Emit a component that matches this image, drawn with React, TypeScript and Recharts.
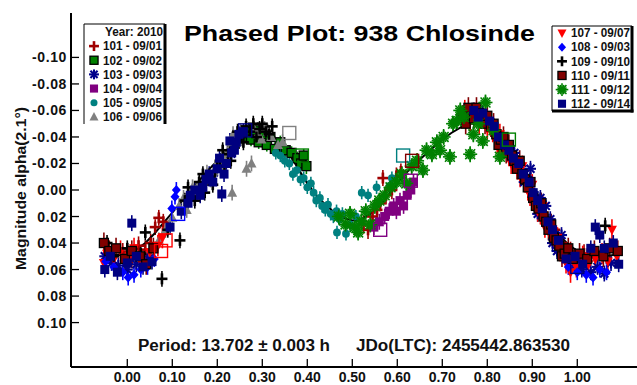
import React from 'react';
import { ScatterChart, Scatter, XAxis, YAxis, ErrorBar } from 'recharts';

type Pt = [number, number, number];

// phase, magnitude, error
const s101: Pt[] = [[0.070,0.021,0.006],[0.080,0.024,0.006],[0.062,0.028,0.006],[0.025,0.042,0.007],[-0.010,0.047,0.007],[0.010,0.052,0.007],[0.040,0.045,0.007],[0.052,0.040,0.007],[0.525,0.026,0.007],[0.535,0.030,0.007],[0.545,0.020,0.007],[0.555,0.015,0.007],[0.562,0.010,0.006],[0.568,-0.009,0.006],[0.575,0.004,0.007],[0.588,0.000,0.007],[0.598,-0.010,0.007],[0.608,-0.014,0.006],[0.930,0.022,0.007],[0.950,0.030,0.007],[0.965,0.040,0.007],[0.985,0.046,0.007],[1.000,0.052,0.007],[1.015,0.048,0.007]];
const s102: Pt[] = [[0.255,-0.040,0.005],[0.265,-0.044,0.005],[0.275,-0.038,0.005],[0.285,-0.045,0.005],[0.292,-0.036,0.005],[0.300,-0.042,0.005],[0.310,-0.034,0.005],[0.318,-0.040,0.005],[0.328,-0.031,0.005],[0.340,-0.036,0.005],[0.352,-0.030,0.005],[0.365,-0.028,0.005],[0.378,-0.024,0.005],[0.386,-0.020,0.005],[0.392,-0.026,0.005],[0.398,-0.018,0.006]];
const s103: Pt[] = [[0.840,-0.030,0.006],[0.852,-0.025,0.006],[0.860,-0.028,0.006],[0.866,-0.022,0.006],[0.875,-0.018,0.006],[0.882,-0.006,0.006],[0.888,-0.010,0.006],[0.896,-0.016,0.006],[0.905,0.004,0.006],[0.912,0.018,0.006],[0.918,0.006,0.006],[0.930,0.012,0.006],[0.940,0.022,0.006],[0.945,0.040,0.006],[0.955,0.046,0.006],[0.965,0.034,0.006],[0.980,0.050,0.006],[0.995,0.057,0.006],[1.010,0.060,0.006],[1.030,0.062,0.006],[1.045,0.058,0.006],[1.060,0.063,0.006],[1.075,0.055,0.006],[-0.050,0.050,0.006],[-0.035,0.055,0.006],[-0.020,0.057,0.006],[0.000,0.060,0.006],[0.020,0.056,0.006],[0.045,0.052,0.006]];
const s104: Pt[] = [[0.548,0.028,0.006],[0.560,0.024,0.006],[0.572,0.020,0.006],[0.582,0.016,0.006],[0.592,0.012,0.006],[0.598,0.016,0.006],[0.606,0.008,0.006],[0.614,0.012,0.006],[0.622,0.004,0.006],[0.630,0.000,0.006],[0.636,-0.006,0.006]];
const s105: Pt[] = [[0.330,-0.028,0.005],[0.340,-0.026,0.005],[0.350,-0.022,0.005],[0.360,-0.020,0.005],[0.368,-0.012,0.005],[0.377,-0.015,0.005],[0.385,-0.008,0.005],[0.392,-0.009,0.005],[0.400,-0.002,0.005],[0.408,-0.005,0.005],[0.414,0.002,0.005],[0.420,0.008,0.005],[0.428,0.006,0.005],[0.433,0.012,0.005],[0.440,0.015,0.005],[0.446,0.011,0.005],[0.452,0.018,0.005],[0.458,0.020,0.005],[0.465,0.016,0.005],[0.472,0.022,0.005],[0.478,0.018,0.005],[0.466,0.032,0.005],[0.486,0.033,0.005],[0.495,0.026,0.005],[0.508,0.020,0.005],[0.521,0.002,0.005],[0.535,0.004,0.005],[0.554,-0.002,0.005],[0.583,-0.003,0.005],[0.588,-0.009,0.005]];
const s106: Pt[] = [[0.100,0.021,0.006],[0.115,0.012,0.006],[0.125,0.006,0.006],[0.132,0.015,0.006],[0.140,0.003,0.006],[0.145,-0.002,0.006],[0.150,0.006,0.006],[0.158,-0.004,0.006],[0.165,0.000,0.006],[0.170,-0.006,0.006],[0.177,-0.013,0.006],[0.185,-0.008,0.006],[0.192,-0.014,0.006],[0.200,-0.021,0.006],[0.210,-0.018,0.006],[0.215,-0.024,0.006],[0.222,-0.028,0.006],[0.228,-0.032,0.006],[0.235,-0.042,0.006],[0.245,-0.036,0.006],[0.252,-0.044,0.006],[0.233,0.002,0.006],[0.265,-0.016,0.006],[0.276,-0.020,0.006],[0.282,-0.046,0.006],[0.290,-0.042,0.006],[0.298,-0.038,0.006],[0.305,-0.046,0.006],[0.312,-0.044,0.006],[0.320,-0.040,0.006],[0.335,-0.034,0.006],[0.345,-0.036,0.006],[0.070,0.038,0.006],[0.085,0.030,0.006]];
const s107: Pt[] = [[0.750,-0.060,0.008],[0.762,-0.052,0.008],[0.772,-0.058,0.008],[0.782,-0.050,0.008],[0.792,-0.054,0.008],[0.800,-0.046,0.008],[0.805,-0.050,0.008],[0.812,-0.044,0.008],[0.818,-0.040,0.008],[0.822,-0.036,0.008],[0.828,-0.042,0.008],[0.832,-0.030,0.008],[0.842,-0.032,0.008],[0.848,-0.026,0.008],[0.853,-0.020,0.008],[0.862,-0.022,0.008],[0.868,-0.016,0.008],[0.873,-0.010,0.008],[0.878,-0.018,0.008],[0.884,-0.006,0.008],[0.890,0.000,0.008],[0.895,0.004,0.008],[0.900,-0.004,0.008],[0.907,0.010,0.008],[0.912,0.016,0.008],[0.918,0.018,0.008],[0.923,0.012,0.008],[0.928,0.028,0.008],[0.934,0.024,0.008],[0.940,0.034,0.008],[0.945,0.030,0.008],[0.950,0.040,0.008],[0.956,0.036,0.008],[0.962,0.046,0.008],[0.968,0.044,0.008],[0.975,0.055,0.008],[0.985,0.062,0.008],[0.998,0.058,0.008],[1.012,0.050,0.008],[1.025,0.056,0.008],[1.040,0.052,0.008],[1.055,0.048,0.008],[1.068,0.054,0.008],[1.077,0.030,0.008],[1.088,0.050,0.008],[-0.052,0.055,0.008],[-0.045,0.048,0.008],[-0.030,0.052,0.008],[-0.015,0.046,0.008],[0.005,0.050,0.008],[0.015,0.044,0.008],[0.030,0.054,0.008],[0.050,0.047,0.008],[0.068,0.042,0.008],[0.078,0.036,0.008]];
const s108: Pt[] = [[0.099,0.014,0.006],[0.106,0.005,0.006],[0.109,0.000,0.006],[-0.048,0.054,0.006],[-0.030,0.058,0.006],[-0.010,0.062,0.006],[0.002,0.066,0.006],[0.015,0.064,0.006],[0.030,0.060,0.006],[0.045,0.058,0.006],[0.060,0.052,0.006],[0.980,0.058,0.006],[1.000,0.062,0.006],[1.020,0.064,0.006],[1.035,0.066,0.006],[1.050,0.060,0.006],[1.065,0.062,0.006]];
const s109: Pt[] = [[0.077,0.067,0.006],[0.117,0.038,0.006],[0.040,0.032,0.006],[0.128,0.008,0.006],[0.135,-0.002,0.006],[0.145,0.002,0.006],[0.150,0.008,0.006],[0.160,-0.006,0.006],[0.168,-0.012,0.006],[0.172,0.002,0.006],[0.183,-0.010,0.006],[0.190,-0.004,0.006],[0.195,-0.014,0.006],[0.200,-0.018,0.006],[0.206,-0.022,0.006],[0.212,-0.030,0.006],[0.216,-0.018,0.006],[0.224,-0.027,0.006],[0.230,-0.022,0.006],[0.238,-0.032,0.006],[0.245,-0.044,0.006],[0.252,-0.040,0.006],[0.258,-0.036,0.006],[0.264,-0.048,0.006],[0.272,-0.044,0.006],[0.280,-0.050,0.006],[0.287,-0.040,0.006],[0.294,-0.046,0.006],[0.300,-0.050,0.006],[0.308,-0.044,0.006],[0.315,-0.042,0.006],[0.322,-0.048,0.006],[1.062,0.027,0.006],[-0.045,0.040,0.006],[-0.030,0.050,0.006],[0.000,0.044,0.006],[0.030,0.048,0.006],[0.090,0.030,0.006]];
const s110: Pt[] = [[0.745,-0.056,0.008],[0.752,-0.050,0.008],[0.758,-0.062,0.008],[0.770,-0.054,0.008],[0.776,-0.062,0.008],[0.782,-0.058,0.008],[0.795,-0.050,0.008],[0.800,-0.056,0.008],[0.808,-0.048,0.008],[0.814,-0.050,0.008],[0.820,-0.042,0.008],[0.825,-0.034,0.008],[0.830,-0.038,0.008],[0.836,-0.040,0.008],[0.842,-0.028,0.008],[0.848,-0.034,0.008],[0.855,-0.026,0.008],[0.860,-0.022,0.008],[0.866,-0.016,0.008],[0.872,-0.022,0.008],[0.878,-0.012,0.008],[0.884,-0.008,0.008],[0.890,-0.002,0.008],[0.896,-0.006,0.008],[0.902,0.006,0.008],[0.908,0.012,0.008],[0.914,0.014,0.008],[0.920,0.010,0.008],[0.925,0.020,0.008],[0.931,0.024,0.008],[0.936,0.030,0.008],[0.942,0.026,0.008],[0.948,0.036,0.008],[0.954,0.038,0.008],[0.960,0.042,0.008],[0.966,0.050,0.008],[0.972,0.048,0.008],[0.980,0.044,0.008],[0.990,0.052,0.008],[1.005,0.048,0.008],[1.022,0.052,0.008],[1.038,0.046,0.008],[1.058,0.050,0.008],[1.072,0.044,0.008],[1.090,0.046,0.008],[-0.052,0.040,0.008],[-0.040,0.046,0.008],[-0.025,0.044,0.008],[-0.005,0.052,0.008],[0.010,0.046,0.008],[0.028,0.050,0.008],[0.042,0.056,0.008],[0.058,0.044,0.008]];
const s111: Pt[] = [[0.470,0.020,0.006],[0.485,0.026,0.006],[0.495,0.018,0.006],[0.505,0.028,0.006],[0.513,0.032,0.006],[0.520,0.024,0.006],[0.530,0.016,0.006],[0.540,0.026,0.006],[0.550,0.012,0.006],[0.560,0.008,0.006],[0.572,0.004,0.006],[0.585,-0.002,0.006],[0.598,-0.006,0.006],[0.610,-0.012,0.006],[0.620,-0.005,0.006],[0.632,-0.018,0.006],[0.644,-0.022,0.006],[0.657,-0.015,0.006],[0.665,-0.030,0.006],[0.677,-0.027,0.006],[0.688,-0.036,0.006],[0.695,-0.030,0.006],[0.703,-0.040,0.006],[0.717,-0.025,0.006],[0.724,-0.050,0.006],[0.732,-0.052,0.006],[0.740,-0.060,0.006],[0.748,-0.055,0.006],[0.762,-0.027,0.006],[0.769,-0.042,0.006],[0.780,-0.050,0.006],[0.790,-0.037,0.006],[0.796,-0.066,0.006],[0.814,-0.045,0.006],[0.828,-0.025,0.006]];
const s112: Pt[] = [[0.010,0.025,0.006],[0.095,0.028,0.006],[0.120,0.016,0.006],[0.135,0.010,0.006],[0.140,0.004,0.006],[0.150,0.000,0.006],[0.162,0.004,0.006],[0.168,-0.002,0.006],[0.175,-0.008,0.006],[0.182,-0.012,0.006],[0.190,-0.006,0.006],[0.200,-0.016,0.006],[0.205,-0.024,0.006],[0.210,0.003,0.006],[0.215,-0.012,0.006],[0.220,-0.020,0.006],[0.228,-0.037,0.006],[0.232,-0.028,0.006],[0.238,-0.030,0.006],[0.242,-0.036,0.006],[0.248,-0.042,0.006],[0.258,-0.044,0.006],[0.770,-0.060,0.006],[0.780,-0.055,0.006],[0.790,-0.058,0.006],[0.805,-0.052,0.006],[0.815,-0.048,0.006],[0.825,-0.040,0.006],[0.838,-0.034,0.006],[0.848,-0.030,0.006],[0.858,-0.024,0.006],[0.870,-0.020,0.006],[0.880,-0.012,0.006],[0.893,-0.006,0.006],[0.902,0.002,0.006],[0.912,0.008,0.006],[0.922,0.014,0.006],[0.935,0.024,0.006],[0.945,0.030,0.006],[0.958,0.038,0.006],[0.975,0.052,0.006],[0.995,0.050,0.006],[1.012,0.056,0.006],[1.030,0.044,0.006],[1.040,0.028,0.006],[1.050,0.034,0.006],[1.060,0.044,0.006],[1.080,0.040,0.006],[1.092,0.056,0.006],[-0.050,0.060,0.006],[-0.038,0.050,0.006],[-0.022,0.062,0.006],[0.000,0.055,0.006],[0.020,0.050,0.006],[0.035,0.058,0.006],[0.055,0.054,0.006]];

const sessionNames = ['101 - 09/01','102 - 09/02','103 - 09/03','104 - 09/04','105 - 09/05','106 - 09/06','107 - 09/07','108 - 09/03','109 - 09/10','110 - 09/11','111 - 09/12','112 - 09/14'];
const sessionColors = ['#A00000','#008000','#00008B','#800080','#008080','#808080','#FF0000','#0000FF','#000000','#800000','#008000','#000080'];
const sessionMarkers = ['plus','sqB','aster','sq','circle','triUp','triDown','diamond','plus','sqB','star','sq'];
const sessionData = [s101,s102,s103,s104,s105,s106,s107,s108,s109,s110,s111,s112];

// hollow highlight boxes: phase, mag, session index
const boxes: Pt[] = [[0.113,0.018,7],[0.262,-0.045,11],[0.360,-0.043,5],[0.388,-0.026,1],[0.848,-0.038,1],[0.613,-0.026,4],[0.633,-0.022,9],[0.630,-0.007,3],[0.562,0.030,3],[0.085,0.038,6],[0.075,0.046,6],[1.000,0.058,11]];

const fitPhase = [-0.05,0.00,0.02,0.04,0.06,0.08,0.10,0.12,0.14,0.16,0.18,0.20,0.22,0.24,0.26,0.28,0.30,0.32,0.34,0.36,0.38,0.40,0.42,0.44,0.46,0.48,0.50,0.52,0.54,0.56,0.58,0.60,0.62,0.64,0.66,0.68,0.70,0.72,0.74,0.76,0.78,0.80,0.82,0.84,0.86,0.88,0.90,0.92,0.94,0.96,0.98,1.00,1.02,1.04,1.06,1.08,1.10];
const fitMag = [0.049,0.049,0.045,0.040,0.033,0.025,0.017,0.009,0.001,-0.007,-0.015,-0.022,-0.029,-0.035,-0.040,-0.043,-0.044,-0.042,-0.036,-0.027,-0.016,-0.005,0.004,0.011,0.017,0.021,0.023,0.022,0.018,0.012,0.004,-0.005,-0.013,-0.020,-0.026,-0.032,-0.038,-0.043,-0.047,-0.050,-0.050,-0.047,-0.040,-0.030,-0.019,-0.007,0.004,0.015,0.025,0.034,0.041,0.046,0.049,0.050,0.050,0.049,0.049];

const xTicks = [0,0.1,0.2,0.3,0.4,0.5,0.6,0.7,0.8,0.9,1.0];
const yTicks = [-0.1,-0.08,-0.06,-0.04,-0.02,0,0.02,0.04,0.06,0.08,0.1];

const FONT = '"Liberation Sans", Arial, sans-serif';
const PLOT_TOP = 13;
const PLOT_BOTTOM = 367;
const PLOT_LEFT = 71;

function Marker({ kind, color, cx, cy, k = 1 }: { kind: string; color: string; cx: number; cy: number; k?: number }) {
  if (cx == null || cy == null || isNaN(cx) || isNaN(cy)) return <g />;
  const h = 4.5 * k;
  switch (kind) {
    case 'plus':
      return (
        <g stroke={color} strokeWidth={2.6}>
          <line x1={cx - 5.5 * k} x2={cx + 5.5 * k} y1={cy} y2={cy} />
          <line x1={cx} x2={cx} y1={cy - 5.5 * k} y2={cy + 5.5 * k} />
        </g>
      );
    case 'sqB':
      return <rect x={cx - h} y={cy - h} width={2 * h} height={2 * h} fill={color} stroke="#000" strokeWidth={1.3} />;
    case 'sq':
      return <rect x={cx - h} y={cy - h} width={2 * h} height={2 * h} fill={color} />;
    case 'circle':
      return <circle cx={cx} cy={cy} r={3.9 * k} fill={color} />;
    case 'triUp':
      return <polygon points={`${cx},${cy - 5.5 * k} ${cx + 5 * k},${cy + 4 * k} ${cx - 5 * k},${cy + 4 * k}`} fill={color} />;
    case 'triDown':
      return <polygon points={`${cx - 5 * k},${cy - 4 * k} ${cx + 5 * k},${cy - 4 * k} ${cx},${cy + 5.5 * k}`} fill={color} />;
    case 'diamond':
      return <polygon points={`${cx},${cy - 5 * k} ${cx + 4.5 * k},${cy} ${cx},${cy + 5 * k} ${cx - 4.5 * k},${cy}`} fill={color} />;
    case 'aster': {
      const r = 5.5 * k;
      const d = r * 0.72;
      return (
        <g stroke={color} strokeWidth={2.1}>
          <line x1={cx - r} x2={cx + r} y1={cy} y2={cy} />
          <line x1={cx} x2={cx} y1={cy - r} y2={cy + r} />
          <line x1={cx - d} x2={cx + d} y1={cy - d} y2={cy + d} />
          <line x1={cx - d} x2={cx + d} y1={cy + d} y2={cy - d} />
        </g>
      );
    }
    case 'star': {
      const lines = [0, 1, 2, 3, 4, 5, 6, 7].map((i) => {
        const a = (i * Math.PI) / 8;
        const r = (i % 2 === 0 ? 7 : 5.5) * k;
        const dx = r * Math.cos(a);
        const dy = r * Math.sin(a);
        return <line key={i} x1={cx - dx} x2={cx + dx} y1={cy - dy} y2={cy + dy} />;
      });
      return (
        <g stroke={color} strokeWidth={1.6}>
          {lines}
        </g>
      );
    }
    default:
      return <g />;
  }
}

const BottomTick = (p: any) => (
  <g>
    <line x1={p.x} x2={p.x} y1={PLOT_BOTTOM} y2={PLOT_BOTTOM - 8} stroke="#000" strokeWidth={1.3} />
    <text x={p.x} y={382} textAnchor="middle" fontFamily={FONT} fontWeight="bold" fontSize={14} fill="#111">
      {Number(p.payload.value).toFixed(2)}
    </text>
  </g>
);

const TopTick = (p: any) => (
  <line x1={p.x} x2={p.x} y1={PLOT_TOP} y2={PLOT_TOP + 7} stroke="#000" strokeWidth={1.3} />
);

const LeftTick = (p: any) => (
  <g>
    <line x1={PLOT_LEFT} x2={PLOT_LEFT + 8} y1={p.y} y2={p.y} stroke="#000" strokeWidth={1.3} />
    <text x={67} y={p.y + 5} textAnchor="end" fontFamily={FONT} fontWeight="bold" fontSize={14} fill="#111" letterSpacing={0.6}>
      {Number(p.payload.value).toFixed(2)}
    </text>
  </g>
);

function LegendBlock({ x, y, idx, header, w, h, bottom }: { x: number; y: number; idx: number[]; header?: string; w: number; h: number; bottom: boolean }) {
  const rowStart = header ? y + 8 + 14.1 : y + 7;
  return (
    <g fontFamily={FONT} fontWeight="bold" fontSize={12}>
      <rect x={x} y={y} width={w} height={h} fill="#fff" stroke="none" />
      <line x1={x} x2={x + w} y1={y} y2={y} stroke="#000" strokeWidth={1} />
      <line x1={x} x2={x} y1={y} y2={y + h} stroke="#000" strokeWidth={1} />
      <line x1={x + w} x2={x + w} y1={y} y2={y + h + (bottom ? 1.5 : 0)} stroke="#000" strokeWidth={3} />
      {bottom && <line x1={x} x2={x + w + 1.5} y1={y + h} y2={y + h} stroke="#000" strokeWidth={3} />}
      {header && (
        <text x={x + 21} y={y + 12} fill="#111" textLength={58} lengthAdjust="spacingAndGlyphs">{header}</text>
      )}
      {idx.map((i, k) => {
        const cy = rowStart + k * 14.15;
        return (
          <g key={i}>
            <Marker kind={sessionMarkers[i]} color={sessionColors[i]} cx={x + 10} cy={cy} k={0.9} />
            <text x={x + 19} y={cy + 4.3} fill="#111" textLength={59} lengthAdjust="spacingAndGlyphs">{sessionNames[i]}</text>
          </g>
        );
      })}
    </g>
  );
}

export default function App() {
  const fitData = fitPhase.map((p, i) => ({ x: p, y: fitMag[i] }));
  const boxData = boxes.map((b) => ({ x: b[0], y: b[1], s: b[2] }));
  return (
    <div style={{ position: 'relative', width: 637, height: 385, background: '#fff' }}>
      <style>{'body{margin:0;}'}</style>
      <ScatterChart width={637} height={385} margin={{ top: PLOT_TOP, right: 0, bottom: 0, left: 0 }}>
        <XAxis
          xAxisId="b"
          type="number"
          dataKey="x"
          domain={[-0.1251, 1.1327]}
          allowDataOverflow
          ticks={xTicks}
          interval={0}
          height={385 - PLOT_BOTTOM}
          axisLine={{ stroke: '#000', strokeWidth: 2 }}
          tickLine={false}
          tick={<BottomTick />}
        />
        <XAxis
          xAxisId="t"
          orientation="top"
          type="number"
          domain={[-0.1241, 1.1018]}
          allowDataOverflow
          ticks={xTicks}
          interval={0}
          height={0}
          axisLine={{ stroke: '#000', strokeWidth: 2 }}
          tickLine={false}
          tick={<TopTick />}
        />
        <YAxis
          type="number"
          dataKey="y"
          reversed
          domain={[-0.1335, 0.1335]}
          allowDataOverflow
          ticks={yTicks}
          interval={0}
          width={PLOT_LEFT}
          axisLine={{ stroke: '#000', strokeWidth: 2 }}
          tickLine={false}
          tick={<LeftTick />}
        />
        <Scatter
          xAxisId="b"
          data={fitData}
          isAnimationActive={false}
          line={{ stroke: '#000', strokeWidth: 2 }}
          shape={() => <g />}
        />
        {sessionData.map((arr, i) => (
          <Scatter
            key={sessionNames[i]}
            xAxisId="b"
            name={sessionNames[i]}
            data={arr.map((d) => ({ x: d[0], y: d[1], err: d[2] }))}
            isAnimationActive={false}
            shape={(p: any) => <Marker kind={sessionMarkers[i]} color={sessionColors[i]} cx={p.cx} cy={p.cy} />}
          >
            <ErrorBar dataKey="err" direction="y" width={0} stroke={sessionColors[i]} strokeWidth={1.6} />
          </Scatter>
        ))}
        <Scatter
          xAxisId="b"
          data={boxData}
          isAnimationActive={false}
          shape={(p: any) =>
            p.cx == null ? <g /> : (
              <rect x={p.cx - 6.5} y={p.cy - 6.5} width={13} height={13} fill="none" stroke={sessionColors[p.payload.s]} strokeWidth={1.4} />
            )
          }
        />
      </ScatterChart>
      <svg width={637} height={385} style={{ position: 'absolute', left: 0, top: 0, pointerEvents: 'none' }}>
        <text x={184} y={41} fontFamily={FONT} fontWeight="bold" fontSize={22} fill="#000" textLength={351} lengthAdjust="spacingAndGlyphs">
          Phased Plot: 938 Chlosinde
        </text>
        <text x={138} y={351} fontFamily={FONT} fontWeight="bold" fontSize={16} fill="#111" textLength={192} lengthAdjust="spacingAndGlyphs">
          Period: 13.702 ± 0.003 h
        </text>
        <text x={356} y={351} fontFamily={FONT} fontWeight="bold" fontSize={16} fill="#111" textLength={214} lengthAdjust="spacingAndGlyphs">
          JDo(LTC): 2455442.863530
        </text>
        <text
          transform="translate(25.5,188.5) rotate(-90)"
          textAnchor="middle"
          fontFamily={FONT}
          fontWeight="bold"
          fontSize={14}
          fill="#111"
          textLength={163}
          lengthAdjust="spacingAndGlyphs"
        >
          Magnitude alpha(2.1°)
        </text>
        <LegendBlock x={84} y={24} idx={[0, 1, 2, 3, 4, 5]} header="Year: 2010" w={81} h={100} bottom={false} />
        <LegendBlock x={552} y={26} idx={[6, 7, 8, 9, 10, 11]} w={80} h={85} bottom={true} />
      </svg>
    </div>
  );
}
